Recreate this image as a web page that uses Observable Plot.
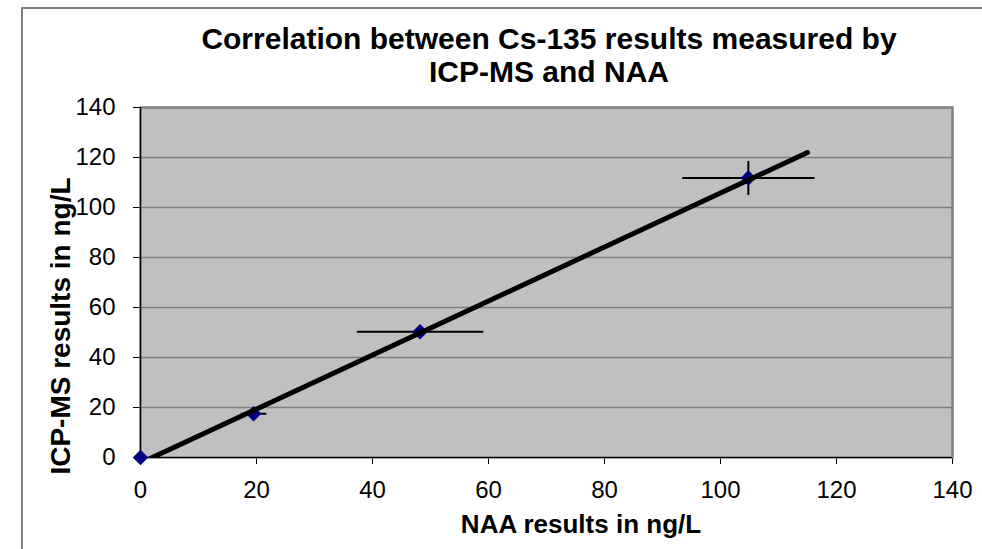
<!DOCTYPE html>
<html><head><meta charset="utf-8">
<script src="https://cdn.jsdelivr.net/npm/d3@7"></script>
<script src="https://cdn.jsdelivr.net/npm/@observablehq/plot@0.6"></script>
<style>
html,body{margin:0;padding:0;background:#fff;overflow:hidden;}
#wrap{position:relative;width:982px;height:549px;overflow:hidden;font-family:"Liberation Sans",Arial,sans-serif;color:#000;}
#frame{position:absolute;left:21px;top:7px;width:1000px;height:600px;border:2px solid #808080;box-sizing:border-box;}
#chart{position:absolute;left:0;top:0;}
#title{position:absolute;left:49px;width:1000px;top:22px;text-align:center;font-weight:bold;font-size:30px;line-height:33px;white-space:nowrap;}
#xtitle{position:absolute;left:381px;width:400px;top:511px;text-align:center;font-weight:bold;font-size:26px;line-height:26px;}
#ytitle{position:absolute;left:-139px;width:400px;top:312px;height:28px;text-align:center;font-weight:bold;font-size:28px;line-height:28px;transform:rotate(-90deg);transform-origin:50% 50%;white-space:nowrap;}
</style></head>
<body>
<div id="wrap">
  <div id="frame"></div>
  <div id="chart"></div>
  <div id="title">Correlation between Cs-135 results measured by<br>ICP-MS and NAA</div>
  <div id="xtitle">NAA results in ng/L</div>
  <div id="ytitle">ICP-MS results in ng/L</div>
</div>
<script>
// Data
const naa    = [0, 19.5, 48.2, 104.8];   // NAA results (x)
const icp    = [0, 17.5, 50.3, 111.8];   // ICP-MS results (y)
const naaErr = [0, 2.2, 10.9, 11.4];     // horizontal error (±)
const icpErr = [0, 0, 0, 6.8];           // vertical error (±)
const trendNaa = [0, 115];               // linear trendline x extent
const trendIcp = [-2.2, 122];            // linear trendline y values
const xTicks = [0, 20, 40, 60, 80, 100, 120, 140];
const yTicks = [0, 20, 40, 60, 80, 100, 120, 140];

const pts = naa.map((x, i) => ({x, y: icp[i], ex: naaErr[i], ey: icpErr[i]}));
const trend = trendNaa.map((x, i) => ({x, y: trendIcp[i]}));

const chart = Plot.plot({
  width: 982,
  height: 549,
  marginLeft: 140,
  marginRight: 30,
  marginTop: 107,
  marginBottom: 92,
  style: {background: "transparent", fontFamily: "'Liberation Sans', Arial, sans-serif", fontSize: "24px", color: "#000", overflow: "visible"},
  x: {domain: [0, 140], ticks: xTicks, tickSize: 7, tickPadding: 16, label: null, tickFormat: d => d},
  y: {domain: [0, 140], ticks: yTicks, tickSize: 7, tickPadding: 18, label: null, tickFormat: d => d},
  marks: [
    Plot.frame({fill: "#c0c0c0", stroke: "#808080", strokeWidth: 2.5}),
    Plot.ruleY(yTicks.filter(v => v > 0 && v < 140), {stroke: "#808080", strokeWidth: 1.5}),
    Plot.ruleY([0], {stroke: "#000", strokeWidth: 1.2}),
    Plot.ruleX([0], {stroke: "#000", strokeWidth: 1.2}),
    Plot.link(pts.filter(d => d.ex > 0), {x1: d => d.x - d.ex, x2: d => d.x + d.ex, y1: "y", y2: "y", stroke: "#000", strokeWidth: 2}),
    Plot.link(pts.filter(d => d.ey > 0), {x1: "x", x2: "x", y1: d => d.y - d.ey, y2: d => d.y + d.ey, stroke: "#000", strokeWidth: 2}),
    Plot.dot(pts, {x: "x", y: "y", symbol: "diamond2", r: 7, fill: "#000080", stroke: "none"}),
    Plot.line(trend, {x: "x", y: "y", stroke: "#000", strokeWidth: 5, strokeLinecap: "round", clip: true})
  ]
});
document.getElementById("chart").appendChild(chart);
</script>
</body></html>
